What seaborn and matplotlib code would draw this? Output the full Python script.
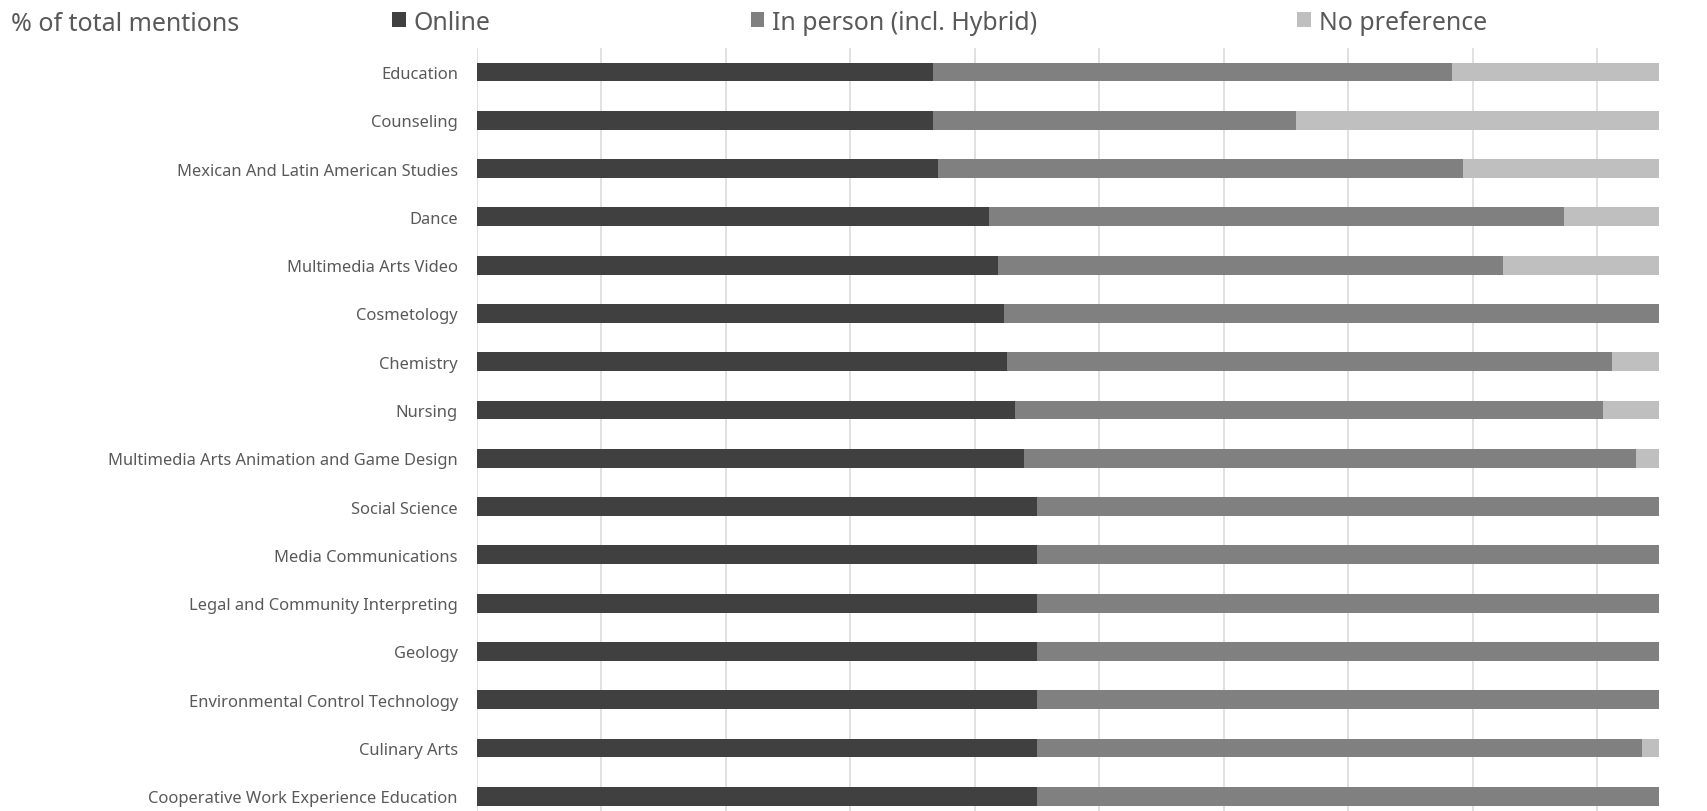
import numpy as np
import pandas as pd
import matplotlib
matplotlib.use("Agg")
import matplotlib.pyplot as plt
from matplotlib.patches import Patch
import seaborn as sns

# Share of mentions per program (%)
programs = [
    "Education",
    "Counseling",
    "Mexican And Latin American Studies",
    "Dance",
    "Multimedia Arts Video",
    "Cosmetology",
    "Chemistry",
    "Nursing",
    "Multimedia Arts Animation and Game Design",
    "Social Science",
    "Media Communications",
    "Legal and Community Interpreting",
    "Geology",
    "Environmental Control Technology",
    "Culinary Arts",
    "Cooperative Work Experience Education",
]
online = [38.6, 38.6, 39.0, 43.3, 44.1, 44.6, 44.8, 45.5, 46.3,
          47.4, 47.4, 47.4, 47.4, 47.4, 47.4, 47.4]
in_person = [43.9, 30.7, 44.4, 48.6, 42.7, 55.4, 51.2, 49.7, 51.7,
             52.6, 52.6, 52.6, 52.6, 52.6, 51.1, 52.6]
no_preference = [17.5, 30.7, 16.6, 8.1, 13.2, 0.0, 4.0, 4.8, 2.0,
                 0.0, 0.0, 0.0, 0.0, 0.0, 1.5, 0.0]
series_names = ["Online", "In person (incl. Hybrid)", "No preference"]
series_colors = ["#404040", "#808080", "#bfbfbf"]

df = pd.DataFrame({
    "program": programs,
    "online": online,
    "in_person": in_person,
    "no_preference": no_preference,
})
df["cum_online"] = df["online"]
df["cum_in_person"] = df["cum_online"] + df["in_person"]
df["cum_total"] = df["cum_in_person"] + df["no_preference"]

sns.set_theme(style="white")
plt.rcParams["font.family"] = ["Noto Sans", "DejaVu Sans"]
text_color = "#595959"

W, H = 1708, 812
fig = plt.figure(figsize=(W / 100, H / 100), dpi=100)
ax = fig.add_axes([476.7 / W, 1 - 821.5 / H, 1182.6 / W, (821.5 - 48.85) / H])

# stacked bars: draw the cumulative totals back to front
for col, color in zip(["cum_total", "cum_in_person", "cum_online"], series_colors[::-1]):
    sns.barplot(data=df, y="program", x=col, orient="h", color=color,
                width=0.39, saturation=1, ax=ax, linewidth=0, errorbar=None)

ax.set_xlim(0, 100)
ax.set_ylim(len(programs) - 0.5, -0.5)
ax.set_xlabel("")
ax.set_ylabel("")
ax.set_xticks(np.arange(0, 100, 100 / 9.5))
ax.set_xticklabels([])
ax.grid(axis="x", color="#d9d9d9", linewidth=1.1)
ax.grid(axis="y", visible=False)
ax.set_axisbelow(True)
for s in ax.spines.values():
    s.set_visible(False)
ax.tick_params(axis="both", length=0)
ax.tick_params(axis="y", pad=13.5, labelsize=11.9, labelcolor=text_color)

fig.text(11 / W, 1 - 31.0 / H, "% of total mentions", fontsize=18,
         color=text_color, va="baseline", ha="left")

handles = [Patch(facecolor=c, edgecolor="none") for c in series_colors]
fig.legend(handles, series_names, loc="center left",
           bbox_to_anchor=(392 / W, 1 - 23 / H), ncol=3, frameon=False,
           fontsize=17.9, labelcolor=text_color, borderpad=0, borderaxespad=0,
           handlelength=0.56, handleheight=0.56, handletextpad=0.32,
           columnspacing=10.45)

fig.savefig("out.png", dpi=100)
